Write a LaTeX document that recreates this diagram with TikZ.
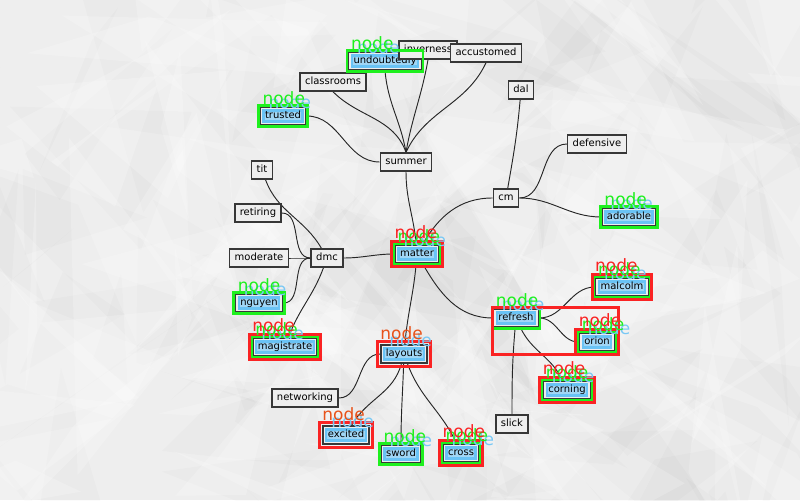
\documentclass[tikz,border=0pt]{standalone}
\usepackage{fontspec}
\setmainfont{DejaVu Sans}

\definecolor{paper}{RGB}{238,238,238}
\definecolor{boxfill}{RGB}{238,238,238}
\definecolor{boxline}{RGB}{55,55,55}
\definecolor{hlblue}{RGB}{105,195,245}
\definecolor{hlfill}{RGB}{160,214,245}
\definecolor{taggreen}{RGB}{30,240,30}
\definecolor{tagred}{RGB}{250,35,35}
\definecolor{tagorange}{RGB}{232,82,25}
\definecolor{tagblue}{RGB}{120,200,245}

\pgfdeclarelayer{bg}
\pgfdeclarelayer{links}
\pgfsetlayers{bg,links,main}

\tikzset{
  word/.style={draw=boxline, fill=boxfill, line width=1.1pt,
    font=\fontsize{7.5}{9}\selectfont, inner xsep=3.75pt, inner ysep=0pt,
    text height=5.8pt, text depth=1.8pt, minimum height=13.5pt},
  marked/.style={word, path picture={
    \draw[hlblue, line width=1.8pt, fill=hlfill]
      ([shift={(2.6pt,-2.6pt)}]path picture bounding box.north west) rectangle
      ([shift={(-2.6pt,2.6pt)}]path picture bounding box.south east);}},
  link/.style={draw=black!85, line width=0.7pt},
  gframe/.style={draw=taggreen, line width=1.9pt},
  rframe/.style={draw=tagred, line width=2.2pt},
  tagtext/.style={anchor=base west, inner sep=0pt, font=\fontsize{12.75}{14}\selectfont},
}

% frames and "node" tags drawn around a word box
\newcommand\gframe[1]{\draw[gframe] ([shift={(-0.6pt,0.6pt)}]#1.north west) rectangle ([shift={(0.6pt,-0.6pt)}]#1.south east);}
\newcommand\rframe[1]{\draw[rframe] ([shift={(-2pt,2pt)}]#1.north west) rectangle ([shift={(2pt,-2pt)}]#1.south east);}
\newcommand\tagat[3]{\node[tagtext, text=#2] (#1-#2) at ([shift={#3}]#1.north west) {node};}
\newcommand\bluetag[1]{\tagat{#1}{tagblue}{(6.75pt,-1.5pt)}}
\newcommand\greentag[1]{\tagat{#1}{taggreen}{(2.25pt,1.2pt)}}
\newcommand\redtag[1]{\tagat{#1}{tagred}{(0pt,4.5pt)}}
\newcommand\orangetag[1]{\tagat{#1}{tagorange}{(0pt,3.5pt)}}

\begin{document}
\begin{tikzpicture}[x=0.75pt, y=0.75pt]
\useasboundingbox (0,0) rectangle (800,500);

% crumpled paper backdrop
\begin{pgfonlayer}{bg}
\fill[paper] (0,0) rectangle (800,500);
\begin{scope}
  \clip (0,0) rectangle (800,500);
  \pgfmathsetseed{11}
  \foreach \i in {1,...,110}{
    \pgfmathsetmacro\ax{rnd*860-30}
    \pgfmathsetmacro\ay{rnd*560-30}
    \pgfmathsetmacro\bx{\ax+rand*170}
    \pgfmathsetmacro\by{\ay+rand*170}
    \pgfmathsetmacro\cx{\ax+rand*170}
    \pgfmathsetmacro\cy{\ay+rand*170}
    \fill[black, opacity=0.014] (\ax,\ay) -- (\bx,\by) -- (\cx,\cy) -- cycle;
  }
  \foreach \i in {1,...,90}{
    \pgfmathsetmacro\ax{rnd*860-30}
    \pgfmathsetmacro\ay{rnd*560-30}
    \pgfmathsetmacro\bx{\ax+rand*180}
    \pgfmathsetmacro\by{\ay+rand*180}
    \pgfmathsetmacro\cx{\ax+rand*180}
    \pgfmathsetmacro\cy{\ay+rand*180}
    \fill[white, opacity=0.2] (\ax,\ay) -- (\bx,\by) -- (\cx,\cy) -- cycle;
  }
\end{scope}
\end{pgfonlayer}

% word boxes
\node[word]   (summer)      at (406,338) {summer};
\node[marked] (undoubtedly) at (385,439) {undoubtedly};
\node[word]   (inverness)   at (428,450) {inverness};
\node[word]   (accustomed)  at (486,447) {accustomed};
\node[word]   (classrooms)  at (333,418) {classrooms};
\node[marked] (trusted)     at (283,384) {trusted};
\node[word]   (dal)         at (521,410) {dal};
\node[word]   (defensive)   at (597,356) {defensive};
\node[word]   (cm)          at (506,302) {cm};
\node[marked] (adorable)    at (629,283) {adorable};
\node[word]   (tit)         at (262,330) {tit};
\node[word]   (retiring)    at (258,287) {retiring};
\node[word]   (moderate)    at (259,242) {moderate};
\node[word]   (dmc)         at (327,242) {dmc};
\node[marked] (matter)      at (417,246) {matter};
\node[marked] (nguyen)      at (259,197) {nguyen};
\node[marked] (magistrate)  at (285,153) {magistrate};
\node[marked] (layouts)     at (404,146) {layouts};
\node[word]   (networking)  at (305,102) {networking};
\node[marked] (excited)     at (346,65)  {excited};
\node[marked] (sword)       at (401,46)  {sword};
\node[marked] (cross)       at (461,47)  {cross};
\node[marked] (refresh)     at (516,182) {refresh};
\node[marked] (malcolm)     at (622,213) {malcolm};
\node[marked] (orion)       at (597,158) {orion};
\node[marked] (corning)     at (567,110) {corning};
\node[word]   (slick)       at (512,76)  {slick};

% connectors
\begin{pgfonlayer}{links}
\draw[link] (trusted) to[out=0,in=180] (summer);
\draw[link] (classrooms.south) to[out=-45,in=110] (summer.north);
\draw[link] (undoubtedly.south) to[out=-85,in=100] (summer.north);
\draw[link] (inverness.south) to[out=-100,in=80] (summer.north);
\draw[link] (accustomed.south) to[out=-115,in=65] (summer.north);
\draw[link] (summer) to[out=-90,in=95] (matter);
\draw[link] (dmc) to[out=0,in=180] (matter);
\draw[link] (matter) to[out=60,in=180] (cm);
\draw[link] (matter) to[out=-60,in=180] (refresh);
\draw[link] (matter) to[out=-95,in=85] (layouts);
\draw[link] (tit) to[out=-70,in=120] (dmc);
\draw[link] (retiring) to[out=0,in=180] (dmc);
\draw[link] (moderate) to[out=0,in=180] (dmc);
\draw[link] (nguyen) to[out=0,in=180] (dmc);
\draw[link] (magistrate) to[out=70,in=-110] (dmc);
\draw[link] (dal) to[out=-95,in=80] (cm);
\draw[link] (defensive) to[out=180,in=0] (cm);
\draw[link] (cm) to[out=0,in=180] (adorable);
\draw[link] (networking) to[out=0,in=180] (layouts);
\draw[link] (layouts) to[out=-105,in=60] (excited);
\draw[link] (layouts) to[out=-92,in=90] (sword);
\draw[link] (layouts) to[out=-70,in=115] (cross);
\draw[link] (refresh) to[out=0,in=180] (malcolm);
\draw[link] (refresh) to[out=0,in=180] (orion);
\draw[link] (refresh) to[out=-65,in=115] (corning);
\draw[link] (refresh) to[out=-95,in=90] (slick);
\end{pgfonlayer}

% frames
\gframe{undoubtedly} \gframe{trusted} \gframe{adorable} \gframe{nguyen}
\gframe{sword} \gframe{refresh} \gframe{matter} \gframe{magistrate}
\gframe{cross} \gframe{orion} \gframe{malcolm} \gframe{corning}
\rframe{matter} \rframe{magistrate} \rframe{layouts} \rframe{excited}
\rframe{cross} \rframe{malcolm} \rframe{orion} \rframe{corning}
\draw[rframe] ([shift={(-0.3pt,0.3pt)}]refresh.north west) rectangle ([shift={(2pt,-2pt)}]orion.south east);

% tags
\foreach \w in {undoubtedly,trusted,adorable,nguyen,sword,refresh,matter,
  magistrate,cross,orion,malcolm,corning,layouts,excited}{\bluetag{\w}}
\foreach \w in {undoubtedly,trusted,adorable,nguyen,sword,refresh,matter,
  magistrate,cross,orion,malcolm,corning}{\greentag{\w}}
\foreach \w in {matter,magistrate,cross,orion,malcolm,corning}{\redtag{\w}}
\orangetag{layouts}
\orangetag{excited}
\end{tikzpicture}
\end{document}
